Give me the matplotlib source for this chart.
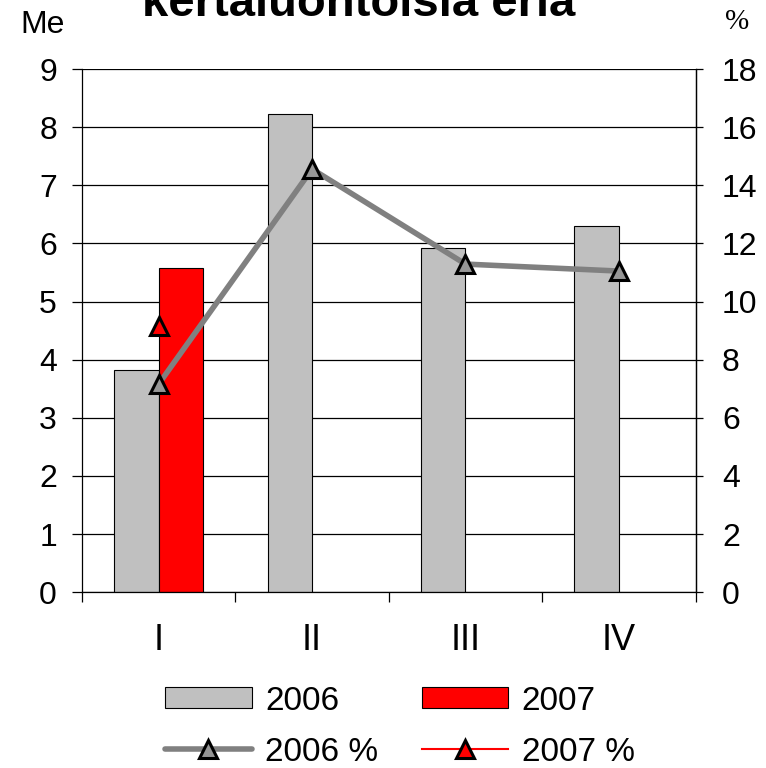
import numpy as np
import matplotlib.pyplot as plt
from matplotlib.lines import Line2D
from matplotlib.patches import Patch

plt.rcParams['font.family'] = ['Liberation Sans', 'DejaVu Sans']

quarters = ['I', 'II', 'III', 'IV']
me_2006 = [3.82, 8.23, 5.92, 6.30]
me_2007 = [5.58]
pct_2006 = [7.16, 14.56, 11.29, 11.05]
pct_2007 = [9.15]

x = np.arange(len(quarters))
w = 0.29

fig = plt.figure(figsize=(7.66, 7.68), dpi=100)
ax = fig.add_axes([0.107, 0.229, 0.801, 0.681])
ax.bar(x - w / 2, me_2006, w, color='#c0c0c0', edgecolor='black', lw=0.8, zorder=2)
ax.bar(x[:len(me_2007)] + w / 2, me_2007, w, color='#ff0000', edgecolor='black', lw=0.8, zorder=2)
ax.set_xlim(-0.5, len(quarters) - 0.5)
ax.set_ylim(0, 9)
ax.set_yticks(range(0, 10))
ax.yaxis.grid(True, color='black', lw=0.9)
ax.set_axisbelow(True)
ax.set_xticks(np.arange(-0.5, len(quarters), 1.0))
ax.set_xticklabels([])
ax.set_xticks(x, minor=True)
ax.set_xticklabels(quarters, minor=True)
ax.tick_params(axis='x', which='minor', length=0, pad=22, labelsize=26)
ax.tick_params(axis='x', which='major', length=7, width=0.9)
ax.tick_params(axis='y', length=7, width=0.9, labelsize=23, pad=11)
ax.spines['top'].set_visible(False)
for s in ['left', 'bottom', 'right']:
    ax.spines[s].set_linewidth(0.9)

ax2 = ax.twinx()
ax2.plot(x, pct_2006, color='#808080', lw=4, marker='^', ms=13,
         mfc='#969696', mec='black', mew=2.2, zorder=3, solid_capstyle='round')
ax2.plot(x[:len(pct_2007)], pct_2007, color='red', lw=1.5, marker='^', ms=13,
         mfc='red', mec='black', mew=2.2, zorder=3)
ax2.set_ylim(0, 18)
ax2.set_yticks(range(0, 19, 2))
ax2.tick_params(axis='y', length=5, width=0.9, labelsize=23, pad=14)
for s in ['top', 'left', 'bottom']:
    ax2.spines[s].set_visible(False)
ax2.spines['right'].set_linewidth(0.9)

fig.text(0.027, 0.968, 'Me', fontsize=23, va='center', ha='left')
fig.text(0.962, 0.971, '%', fontsize=21, va='center', ha='center',
         family=['Liberation Serif', 'DejaVu Serif'])
fig.text(0.468, 0.979, 'kertaluontoisia eriä', fontsize=34, fontweight='bold',
         ha='center', va='baseline')

handles = [
    Patch(facecolor='#c0c0c0', edgecolor='black', lw=0.8),
    Line2D([], [], color='#808080', lw=4, marker='^', ms=13, mfc='#969696',
           mec='black', mew=2.2, solid_capstyle='round'),
    Patch(facecolor='#ff0000', edgecolor='black', lw=0.8),
    Line2D([], [], color='red', lw=1.5, marker='^', ms=13, mfc='red',
           mec='black', mew=2.2),
]
labels = ['2006', '2006 %', '2007', '2007 %']
fig.legend(handles, labels, ncol=2, loc='center', bbox_to_anchor=(0.522, 0.054),
           frameon=False, fontsize=24, handlelength=2.6, handleheight=0.6,
           columnspacing=1.3, labelspacing=0.6, handletextpad=0.4,
           borderpad=0, borderaxespad=0)

fig.savefig('out.png', dpi=100)
